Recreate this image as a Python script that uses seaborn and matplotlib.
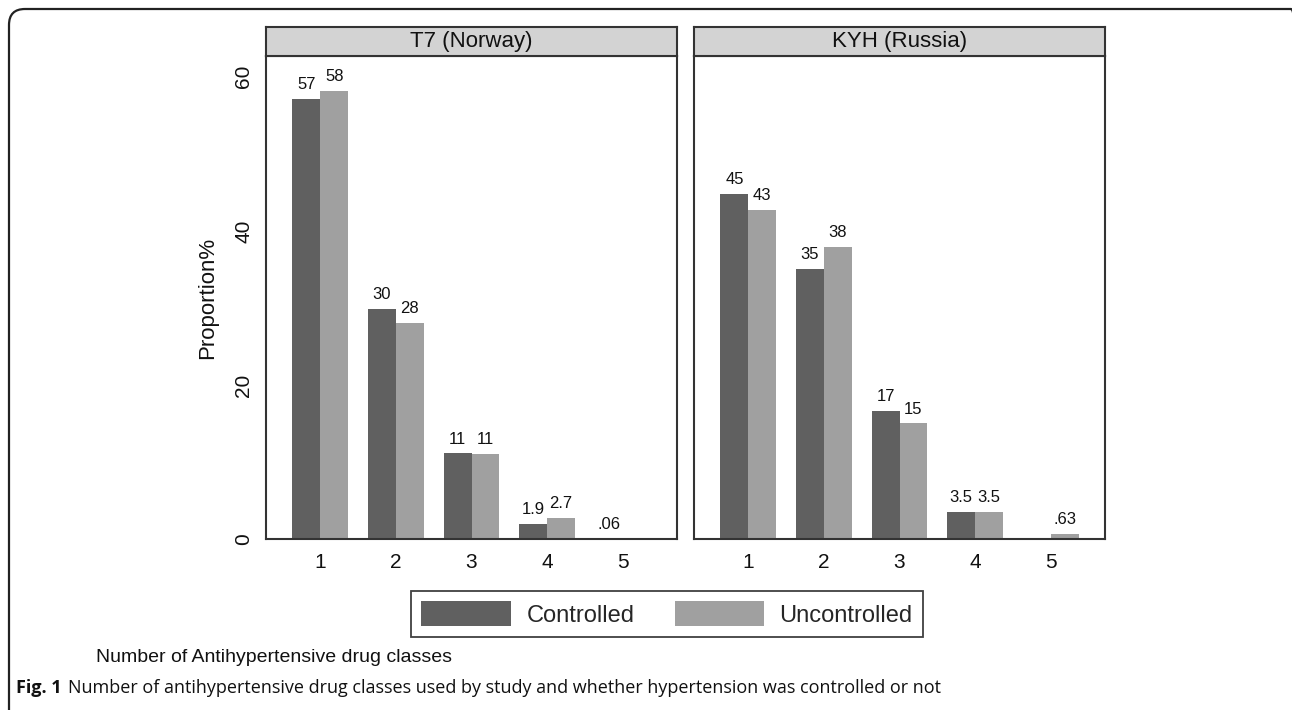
import numpy as np
import pandas as pd
import matplotlib.pyplot as plt
import seaborn as sns
from matplotlib.patches import FancyBboxPatch, Patch
from matplotlib.transforms import IdentityTransform

# values (proportion %)
drug_classes = ["1", "2", "3", "4", "5"]
norway_controlled = [57.1, 29.8, 11.1, 1.9, 0.06]
norway_uncontrolled = [58.1, 28.1, 11.0, 2.7, np.nan]
russia_controlled = [44.8, 35.1, 16.6, 3.5, np.nan]
russia_uncontrolled = [42.7, 37.9, 15.0, 3.5, 0.63]
studies = ["T7 (Norway)", "KYH (Russia)"]
statuses = ["Controlled", "Uncontrolled"]
colors = {"Controlled": "#606060", "Uncontrolled": "#a0a0a0"}

rows = []
for study, ctrl, unctrl in [(studies[0], norway_controlled, norway_uncontrolled),
                            (studies[1], russia_controlled, russia_uncontrolled)]:
    for k, c, u in zip(drug_classes, ctrl, unctrl):
        rows.append({"study": study, "classes": k, "status": "Controlled", "pct": c})
        rows.append({"study": study, "classes": k, "status": "Uncontrolled", "pct": u})
df = pd.DataFrame(rows).dropna()

sns.set_style("white")
plt.rcParams["font.family"] = ["Liberation Sans", "DejaVu Sans"]


def stata_fmt(v):
    # stata-style labels: 2 significant digits, no leading zero
    s = f"{v:.2g}"
    if s.startswith("0."):
        s = s[1:]
    return s


W, H = 1292, 710
fig = plt.figure(figsize=(W / 100, H / 100), dpi=100)

# outer rounded frame (only left / top edges fall inside the image)
frame = FancyBboxPatch((9, -60), 1298, H - 9 + 60, boxstyle="round,pad=0,rounding_size=16",
                       transform=IdentityTransform(), fill=False, edgecolor="#222222", linewidth=1.6)
fig.patches.append(frame)

panel_left = [266, 694]
panel_w = 411
top, bottom, head = 56, 539, 29
edge = "#333333"

for i, study in enumerate(studies):
    l = panel_left[i] / W
    ax = fig.add_axes([l, (H - bottom) / H, panel_w / W, (bottom - top) / H])
    sub = df[df["study"] == study]
    sns.barplot(data=sub, x="classes", y="pct", hue="status", order=drug_classes,
                hue_order=statuses, palette=colors, width=0.74, errorbar=None,
                saturation=1, linewidth=0, legend=False, ax=ax)
    for cont in ax.containers:
        ax.bar_label(cont, fmt=stata_fmt, padding=5, fontsize=12, color="#111111")
    ax.set_xlim(-0.72, 4.72)
    ax.set_ylim(0, 62.7)
    ax.set_xlabel("")
    ax.set_ylabel("")
    for sp in ax.spines.values():
        sp.set_color(edge)
        sp.set_linewidth(1.5)
    ax.tick_params(axis="x", length=0, pad=10, labelsize=15, colors="#111111")
    if i == 0:
        ax.set_yticks([0, 20, 40, 60])
        ax.tick_params(axis="y", length=5, width=1.2, pad=4, labelsize=15,
                       labelrotation=90, colors="#111111")
        for t in ax.get_yticklabels():
            t.set_va("center")
        ax.set_ylabel("Proportion%", fontsize=16, labelpad=12, color="#111111")
    else:
        ax.set_yticks([])

    # grey strip with the study name
    hax = fig.add_axes([l, (H - top) / H, panel_w / W, head / H])
    hax.set_facecolor("#d3d3d3")
    hax.set_xticks([])
    hax.set_yticks([])
    for sp in hax.spines.values():
        sp.set_color(edge)
        sp.set_linewidth(1.5)
    hax.text(0.5, 0.5, study, ha="center", va="center", fontsize=16, color="#111111",
             transform=hax.transAxes)

handles = [Patch(facecolor=colors[s], edgecolor="none", label=s) for s in statuses]
leg = fig.legend(handles=handles, loc="center", bbox_to_anchor=(667 / W, (H - 614) / H),
                 ncol=2, fontsize=17, frameon=True, fancybox=False, edgecolor="#111111",
                 handlelength=3.8, handleheight=1.2, handletextpad=0.65,
                 columnspacing=1.7, borderpad=0.45)
leg.get_frame().set_linewidth(1.3)

fig.text(96 / W, (H - 657) / H, "Number of Antihypertensive drug classes", fontsize=14,
         ha="left", va="center", color="#111111")

cap_y = (H - 688) / H
t1 = fig.text(16 / W, cap_y, "Fig. 1", fontsize=13, fontweight="bold", family="Open Sans",
              ha="left", va="center", color="#111111")
fig.canvas.draw()
bb = t1.get_window_extent()
fig.text((bb.x1 + 6) / W, cap_y,
         "Number of antihypertensive drug classes used by study and whether hypertension was controlled or not",
         fontsize=13, family="Open Sans", ha="left", va="center", color="#111111")

fig.savefig("out.png", dpi=100)
